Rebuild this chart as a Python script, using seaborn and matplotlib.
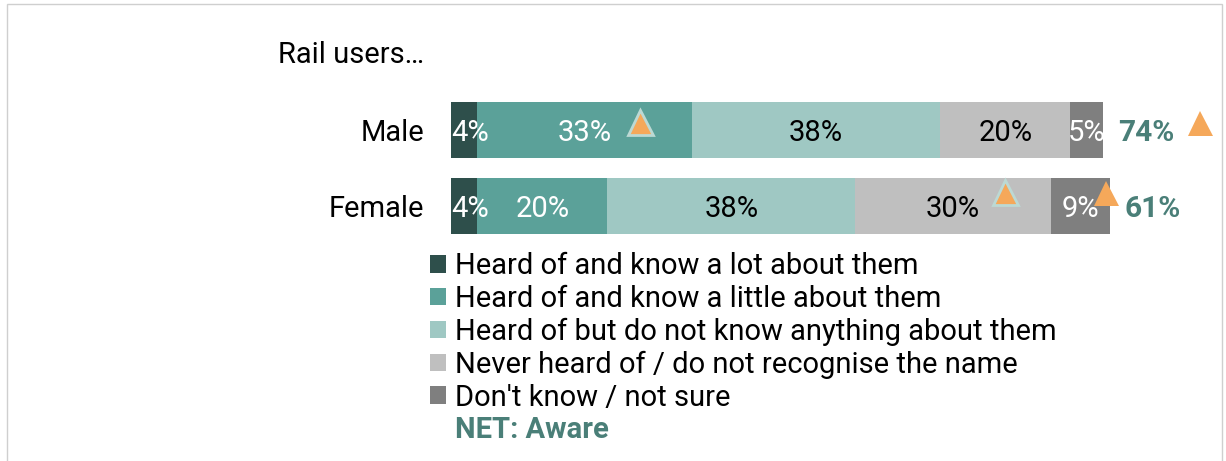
import numpy as np
import pandas as pd
import seaborn as sns
import matplotlib.pyplot as plt
from matplotlib.patches import Patch, Rectangle
from matplotlib.transforms import offset_copy

# data
groups = ["Male", "Female"]
categories = ["Heard of and know a lot about them",
              "Heard of and know a little about them",
              "Heard of but do not know anything about them",
              "Never heard of / do not recognise the name",
              "Don't know / not sure"]
male = [4, 33, 38, 20, 5]
female = [4, 20, 38, 30, 9]
net_aware = [74, 61]
# significance triangles: (group, category index or "net")
flags = [(0, 1), (1, 3), (1, 4), (0, "net")]

colors = ["#2E4F4B", "#5BA199", "#9FC8C3", "#BFBFBF", "#7F7F7F"]
text_colors = ["white", "white", "black", "black", "white"]
net_color = "#4A7F78"
tri_color = "#F5A85A"
# pixel offsets of the triangles (x from segment centre / net text, y up)
tri_offsets = {(0, 1): (55, 8, True), (1, 3): (52, 14, True),
               (1, 4): (26, 13, False), (0, "net"): (82, 7, False)}

sns.set_theme(style="white")
plt.rcParams["font.family"] = ["Roboto", "DejaVu Sans"]
plt.rcParams["text.color"] = "black"

df = pd.DataFrame([male, female], columns=categories)
df["group"] = groups
cum = df[categories].cumsum(axis=1)
cum["group"] = groups

fig = plt.figure(figsize=(12.26, 4.61), dpi=100)
ax = fig.add_axes([451 / 1226, 1 - 244 / 461, 652 / 1226, 152 / 461])

# classic seaborn stacked bars: draw cumulative totals from the back
for cat, col in zip(categories[::-1], colors[::-1]):
    sns.barplot(data=cum, x=cat, y="group", order=groups, color=col,
                saturation=1, width=0.737, orient="h", ax=ax)

ax.set_xlim(0, 100)
ax.set_ylim(1.5, -0.5)
ax.set_xlabel("")
ax.set_ylabel("")
ax.set_xticks([])
sns.despine(ax=ax, left=True, bottom=True)
ax.tick_params(axis="y", length=0, pad=19, labelsize=21, labelcolor="black")
for p in ax.patches:
    p.set_clip_on(False)
    p.set_linewidth(0)

# segment labels
for i, row in enumerate([male, female]):
    left = 0
    for j, v in enumerate(row):
        if j == 0 and v < 5:
            ax.text(left, i, f"{v}%", ha="left", va="center_baseline",
                    fontsize=21, color=text_colors[j])
        else:
            ax.text(left + v / 2, i, f"{v}%", ha="center", va="center_baseline",
                    fontsize=21, color=text_colors[j])
        left += v
    ax.annotate(f"{net_aware[i]}%", xy=(left, i), xytext=(10.8, 0),
                textcoords="offset points", ha="left", va="center_baseline",
                fontsize=21.5, fontweight="bold", color=net_color,
                annotation_clip=False)

# triangles
for key in flags:
    i, j = key
    row = [male, female][i]
    dx, dy, outlined = tri_offsets[key]
    if j == "net":
        x = sum(row)
        dx += 15
    else:
        x = sum(row[:j]) + row[j] / 2
    tr = offset_copy(ax.transData, fig=fig, x=dx, y=dy, units="dots")
    ax.plot([x], [i], marker="^", ms=18, color=tri_color, transform=tr,
            mec="#BCD9D4" if outlined else tri_color, mew=2 if outlined else 0,
            clip_on=False, zorder=5)

fig.text(278 / 1226, 1 - 55 / 461, "Rail users\u2026", fontsize=21,
         ha="left", va="center", color="black")

handles = [Patch(color=c, lw=0) for c in colors] + [Patch(color="none", lw=0)]
leg = fig.legend(handles, categories + ["NET: Aware"], loc="upper left",
                 bbox_to_anchor=(430 / 1226, 1 - 252 / 461), frameon=False,
                 fontsize=21, handlelength=0.56, handleheight=0.56,
                 handletextpad=0.3, labelspacing=0.165, borderpad=0,
                 borderaxespad=0, labelcolor="black")
last = leg.get_texts()[-1]
last.set_color(net_color)
last.set_fontweight("bold")

fig.patches.append(Rectangle((7 / 1226, -0.05), 1215 / 1226, 1.05 - 4 / 461,
                             transform=fig.transFigure, fill=False,
                             edgecolor="#CFCFCF", lw=1))

fig.savefig("out.png", dpi=100)
